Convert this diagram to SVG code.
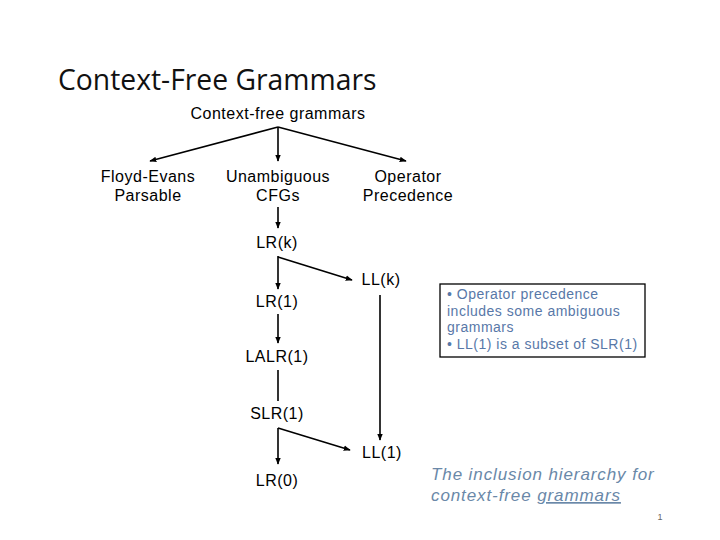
<svg xmlns="http://www.w3.org/2000/svg" width="720" height="540" viewBox="0 0 720 540">
<style>
.t{font-family:"Liberation Sans",Arial,sans-serif;font-size:16px;letter-spacing:0.5px;fill:#000;text-anchor:middle}
.c{stroke:#000;stroke-width:1.6;fill:none}
.n{font-family:"Liberation Sans",Arial,sans-serif;font-size:14px;letter-spacing:0.5px;fill:#5878a8}
</style>
<defs>
<marker id="ah" viewBox="0 0 10 10" refX="9" refY="5" markerWidth="7" markerHeight="7" orient="auto" markerUnits="userSpaceOnUse"><path d="M0,1 L10,5 L0,9 Z" fill="#000"/></marker>
</defs>
<rect width="720" height="540" fill="#fff"/>
<text x="58" y="90" font-family="'Open Sans','Liberation Sans',sans-serif" font-size="28.3" fill="#111">Context-Free Grammars</text>
<g id="cfg"><text class="t" x="278" y="119">Context-free grammars</text></g>
<g id="floyd"><text class="t" x="148" y="182">Floyd-Evans</text><text class="t" x="148" y="201">Parsable</text></g>
<g id="unamb"><text class="t" x="278" y="182">Unambiguous</text><text class="t" x="278" y="201">CFGs</text></g>
<g id="opprec"><text class="t" x="408" y="182">Operator</text><text class="t" x="408" y="201">Precedence</text></g>
<g id="lrk"><text class="t" x="277" y="248">LR(k)</text></g>
<g id="llk"><text class="t" x="381" y="285">LL(k)</text></g>
<g id="lr1"><text class="t" x="277" y="307">LR(1)</text></g>
<g id="lalr1"><text class="t" x="277" y="362">LALR(1)</text></g>
<g id="slr1"><text class="t" x="277" y="419">SLR(1)</text></g>
<g id="ll1"><text class="t" x="382" y="458">LL(1)</text></g>
<g id="lr0"><text class="t" x="277" y="486">LR(0)</text></g>
<g id="connectors">
<line class="c" x1="278" y1="127" x2="150" y2="161" marker-end="url(#ah)"/>
<line class="c" x1="278" y1="127" x2="278" y2="161" marker-end="url(#ah)"/>
<line class="c" x1="278" y1="127" x2="406" y2="161" marker-end="url(#ah)"/>
<line class="c" x1="278" y1="207" x2="278" y2="228" marker-end="url(#ah)"/>
<line class="c" x1="278" y1="256" x2="278" y2="289" marker-end="url(#ah)"/>
<line class="c" x1="278" y1="257" x2="352" y2="280" marker-end="url(#ah)"/>
<line class="c" x1="278" y1="314" x2="278" y2="343" marker-end="url(#ah)"/>
<line class="c" x1="278" y1="370" x2="278" y2="401"/>
<line class="c" x1="380" y1="295" x2="380" y2="440" marker-end="url(#ah)"/>
<line class="c" x1="278" y1="428" x2="278" y2="464" marker-end="url(#ah)"/>
<line class="c" x1="278" y1="428" x2="350" y2="450" marker-end="url(#ah)"/>
</g>
<g id="note">
<rect x="440" y="284" width="205" height="73" fill="#fff" stroke="#000" stroke-width="1.3"/>
<text class="n" x="447" y="299">• Operator precedence</text>
<text class="n" x="447" y="316">includes some ambiguous</text>
<text class="n" x="447" y="332">grammars</text>
<text class="n" x="447" y="349">• LL(1) is a subset of SLR(1)</text>
</g>
<g id="caption" font-family="'Liberation Sans',Arial,sans-serif" font-size="17" font-style="italic" letter-spacing="0.9" fill="#6a88a8">
<text x="431" y="480">The inclusion hierarchy for</text>
<text x="431" y="501">context-free <tspan text-decoration="underline">grammars</tspan></text>
</g>
<text x="660" y="520" font-family="'Liberation Sans',Arial,sans-serif" font-size="9" fill="#666" text-anchor="middle">1</text>
</svg>
